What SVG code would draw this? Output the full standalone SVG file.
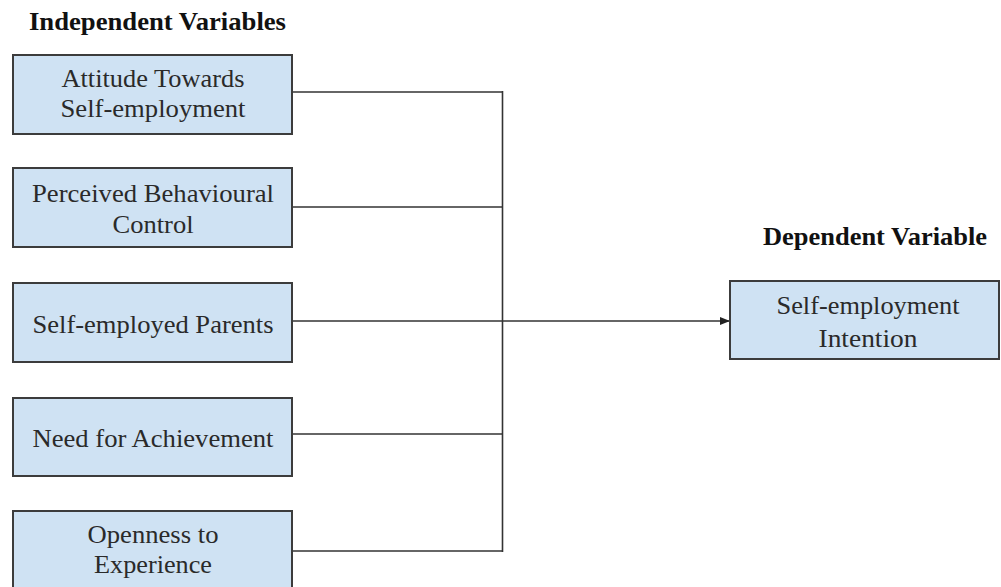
<svg xmlns="http://www.w3.org/2000/svg" width="1001" height="587" viewBox="0 0 1001 587">
  <style>
    .box { fill: #cfe2f3; stroke: #3c3c3c; stroke-width: 2; }
    .lbl { font-family: 'Liberation Serif', serif; font-size: 26px; fill: #2a2a2a; text-anchor: middle; }
    .hdr { font-family: 'Liberation Serif', serif; font-size: 26px; font-weight: bold; fill: #111; }
    .ln { stroke: #333; stroke-width: 1.6; fill: none; }
  </style>
  <defs>
    <marker id="arr" markerWidth="10" markerHeight="8" refX="9" refY="4" orient="auto" markerUnits="userSpaceOnUse">
      <path d="M0,0 L10,4 L0,8 Z" fill="#222"/>
    </marker>
  </defs>
  <rect width="1001" height="587" fill="#fff"/>

  <text class="hdr" x="29" y="30" textLength="257" lengthAdjust="spacingAndGlyphs">Independent Variables</text>
  <text class="hdr" x="763" y="245" textLength="224" lengthAdjust="spacingAndGlyphs">Dependent Variable</text>

  <g id="connectors">
    <line class="ln" x1="292" y1="92" x2="503" y2="92"/>
    <line class="ln" x1="292" y1="207" x2="503" y2="207"/>
    <line class="ln" x1="292" y1="434" x2="503" y2="434"/>
    <line class="ln" x1="292" y1="551" x2="503" y2="551"/>
    <line class="ln" x1="502.5" y1="91" x2="502.5" y2="552"/>
    <line class="ln" x1="292" y1="321" x2="729" y2="321" marker-end="url(#arr)"/>
  </g>

  <g id="n1">
    <rect class="box" x="13" y="55" width="279" height="79"/>
    <text class="lbl" x="153" y="87" textLength="183" lengthAdjust="spacingAndGlyphs">Attitude Towards</text>
    <text class="lbl" x="153" y="117" textLength="185" lengthAdjust="spacingAndGlyphs">Self-employment</text>
  </g>
  <g id="n2">
    <rect class="box" x="13" y="168" width="279" height="79"/>
    <text class="lbl" x="153" y="202" textLength="242" lengthAdjust="spacingAndGlyphs">Perceived Behavioural</text>
    <text class="lbl" x="153" y="233" textLength="81" lengthAdjust="spacingAndGlyphs">Control</text>
  </g>
  <g id="n3">
    <rect class="box" x="13" y="283" width="279" height="79"/>
    <text class="lbl" x="153" y="333" textLength="241" lengthAdjust="spacingAndGlyphs">Self-employed Parents</text>
  </g>
  <g id="n4">
    <rect class="box" x="13" y="398" width="279" height="78"/>
    <text class="lbl" x="153" y="447" textLength="241" lengthAdjust="spacingAndGlyphs">Need for Achievement</text>
  </g>
  <g id="n5">
    <rect class="box" x="13" y="511" width="279" height="90"/>
    <text class="lbl" x="153" y="543" textLength="131" lengthAdjust="spacingAndGlyphs">Openness to</text>
    <text class="lbl" x="153" y="573" textLength="118" lengthAdjust="spacingAndGlyphs">Experience</text>
  </g>
  <g id="n6">
    <rect class="box" x="730" y="281" width="269" height="78"/>
    <text class="lbl" x="868" y="314" textLength="183" lengthAdjust="spacingAndGlyphs">Self-employment</text>
    <text class="lbl" x="868" y="347" textLength="99" lengthAdjust="spacingAndGlyphs">Intention</text>
  </g>
</svg>
